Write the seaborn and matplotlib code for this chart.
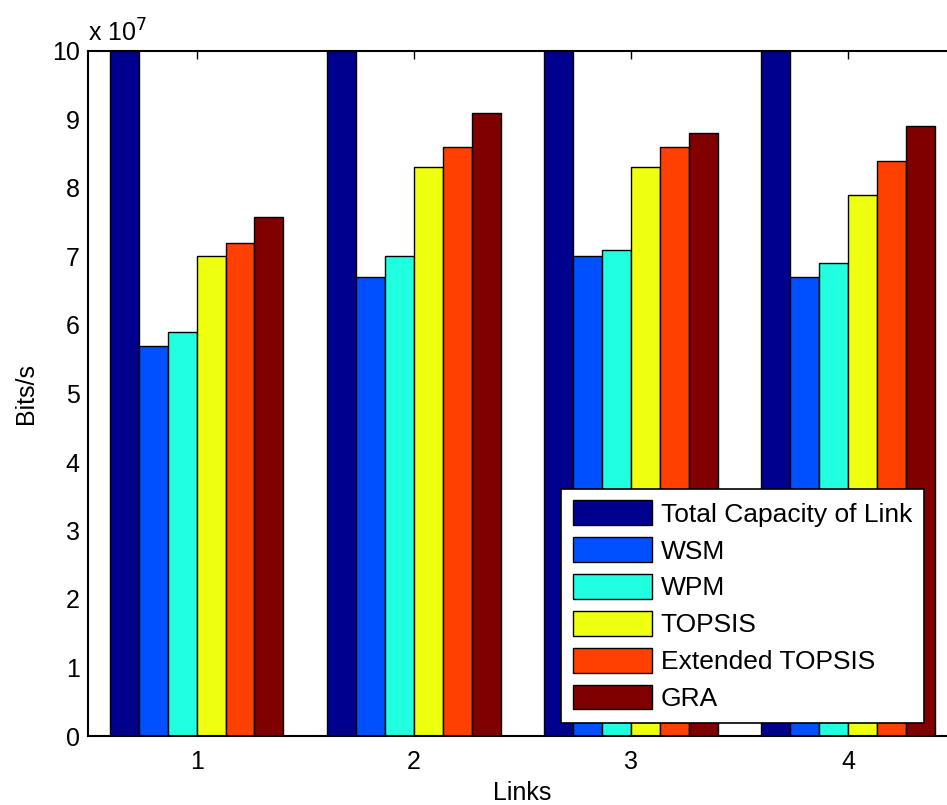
import pandas as pd
import matplotlib
matplotlib.use("Agg")
import matplotlib.pyplot as plt
import seaborn as sns
from matplotlib.ticker import FuncFormatter, MultipleLocator

links = ["1", "2", "3", "4"]
methods = ["Total Capacity of Link", "WSM", "WPM", "TOPSIS", "Extended TOPSIS", "GRA"]
capacity = [10.0e7, 10.0e7, 10.0e7, 10.0e7]
wsm = [5.7e7, 6.7e7, 7.0e7, 6.7e7]
wpm = [5.9e7, 7.0e7, 7.1e7, 6.9e7]
topsis = [7.0e7, 8.3e7, 8.3e7, 7.9e7]
ext_topsis = [7.2e7, 8.6e7, 8.6e7, 8.4e7]
gra = [7.57e7, 9.1e7, 8.8e7, 8.9e7]
colors = ["#00008f", "#0050ff", "#20ffe0", "#eeff10", "#ff4000", "#800000"]

series = [capacity, wsm, wpm, topsis, ext_topsis, gra]
rows = []
for m, vals in zip(methods, series):
    for l, v in zip(links, vals):
        rows.append({"Links": l, "Bits/s": v, "Method": m})
df = pd.DataFrame(rows)

sns.set_style("white")
plt.rcParams["font.family"] = ["Liberation Sans", "DejaVu Sans"]
plt.rcParams["text.color"] = "black"
plt.rcParams["axes.labelcolor"] = "black"
fs = 18

fig = plt.figure(figsize=(9.47, 8.05), dpi=100)
ax = fig.add_axes([88 / 947, 69 / 805, 868.5 / 947, 685 / 805])

sns.barplot(data=df, x="Links", y="Bits/s", hue="Method", hue_order=methods,
            palette=colors, width=0.8, saturation=1, edgecolor="black",
            linewidth=1, ax=ax)

ax.set_xlim(-0.5, 3.5)
ax.set_ylim(0, 10e7)
ax.yaxis.set_major_locator(MultipleLocator(1e7))
ax.yaxis.set_major_formatter(FuncFormatter(lambda v, p: f"{v / 1e7:g}"))
ax.tick_params(direction="in", length=6, width=1, top=True, right=False,
               labelsize=fs, colors="black", pad=6)
ax.tick_params(axis="x", pad=10)
for s in ["left", "bottom", "top"]:
    ax.spines[s].set_color("black")
    ax.spines[s].set_linewidth(1.5)
ax.spines["right"].set_visible(False)

ax.set_xlabel("Links", fontsize=fs, labelpad=5, color="black")
ax.set_ylabel("Bits/s", fontsize=fs, labelpad=10, color="black")
ax.text(0.0, 1.006, "x 10$^{7}$", transform=ax.transAxes, fontsize=fs,
        ha="left", va="bottom", color="black")

leg = ax.legend(loc="lower right", bbox_to_anchor=(924 / 947, 82 / 805),
                bbox_transform=fig.transFigure, borderaxespad=0,
                frameon=True, fancybox=False, fontsize=19,
                handlelength=3.0, handleheight=1.06, labelspacing=0.4,
                handletextpad=0.34, borderpad=0.45, labelcolor="black")
leg.get_frame().set_edgecolor("black")
leg.get_frame().set_linewidth(1.2)
leg.get_frame().set_alpha(1)

fig.savefig("out.png", dpi=100)
